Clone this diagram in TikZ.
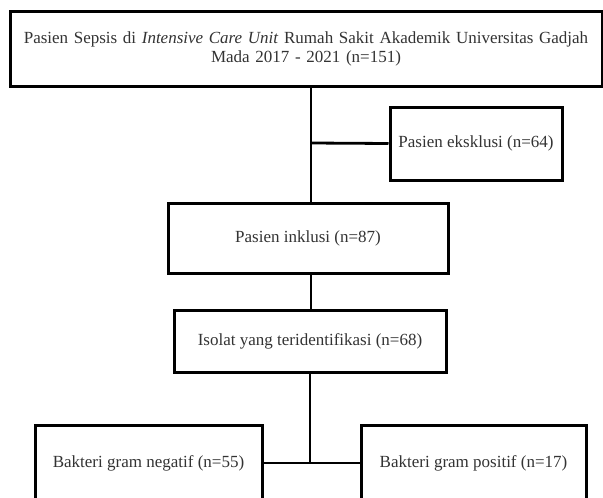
\documentclass[tikz,border=0pt]{standalone}
\usepackage{fontspec}
\setmainfont{Liberation Serif}
\begin{document}
\begin{tikzpicture}[x=1pt,y=-1pt,
  box/.style={draw=black, line width=3pt, fill=white, inner sep=0pt,
    text=black!80, align=center, font=\fontsize{17}{19}\selectfont},
  link/.style={draw=black, line width=2.8pt}]
\useasboundingbox (0,0) rectangle (603,498);
\clip (0,0) rectangle (603,498);
\fill[white] (0,0) rectangle (603,498);
\node[box, minimum width=592pt, minimum height=75pt, text width=585pt] (top) at (306,48.5)
  {Pasien Sepsis di \textit{Intensive Care Unit} Rumah Sakit Akademik Universitas Gadjah\\Mada 2017 - 2021 (n=151)};
\node[box, minimum width=172pt, minimum height=73pt] (excl) at (476,143.5) {Pasien eksklusi (n=64)};
\node[box, minimum width=280pt, minimum height=70pt] (incl) at (308,238) {Pasien inklusi (n=87)};
\node[box, minimum width=272pt, minimum height=62pt] (iso) at (310,341) {Isolat yang teridentifikasi (n=68)};
\node[box, minimum width=227pt, minimum height=76pt] (neg) at (148.5,463) {Bakteri gram negatif (n=55)};
\node[box, minimum width=225pt, minimum height=76pt] (pos) at (473.5,463) {Bakteri gram positif (n=17)};
\coordinate (j1) at (311,143);
\coordinate (j2) at (310,463);
\draw[link] (top.south -| j1) -- (incl.north -| j1);
\draw[link] (j1) -- (excl.west);
\draw[link] (incl.south -| j1) -- (iso.north -| j1);
\draw[link] (iso.south -| j2) -- (j2);
\draw[link] (neg.east) -- (pos.west);
\end{tikzpicture}
\end{document}
